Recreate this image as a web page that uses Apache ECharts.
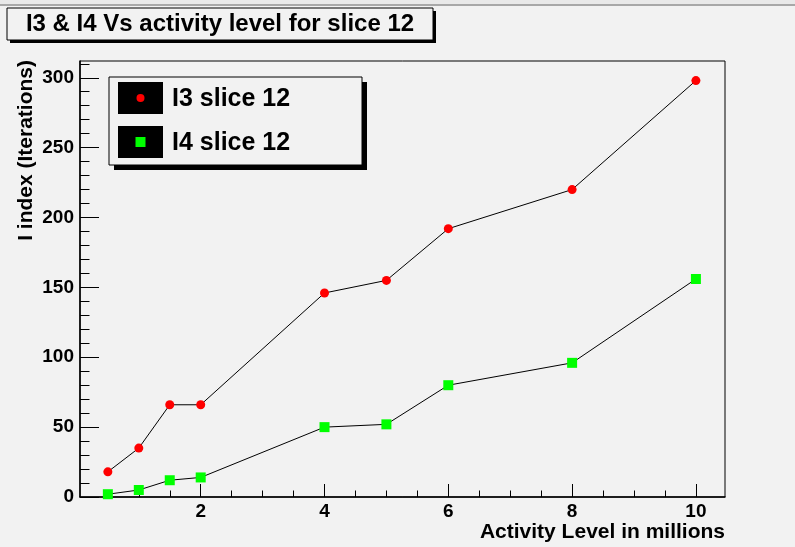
<!DOCTYPE html>
<html>
<head>
<meta charset="utf-8">
<script src="https://cdn.jsdelivr.net/npm/echarts@6/dist/echarts.min.js"></script>
<style>
  html, body { margin: 0; padding: 0; background: #f2f2f2; }
  #chart { width: 795px; height: 547px; }
</style>
</head>
<body>
<div id="chart"></div>
<script>
// Activity level (millions) and iteration counts per index
const activityLevels = [0.5, 1, 1.5, 2, 4, 5, 6, 8, 10];
const i3Slice12 = [18, 35, 66, 66, 146, 155, 192, 220, 298];
const i4Slice12 = [2, 5, 12, 14, 50, 52, 80, 96, 156];

// Axis tick positions
const xMajorTicks = [2, 4, 6, 8, 10];
const xMinorTicks = [0.5, 1, 1.5, 2.5, 3, 3.5, 4.5, 5, 5.5, 6.5, 7, 7.5, 8.5, 9, 9.5];
const yMajorTicks = [0, 50, 100, 150, 200, 250, 300];
const yMinorTicks = [10, 20, 30, 40, 60, 70, 80, 90, 110, 120, 130, 140, 160, 170, 180, 190,
                     210, 220, 230, 240, 260, 270, 280, 290, 310];

const seriesNames = ['I3 slice 12', 'I4 slice 12'];
const titleText = 'I3 & I4 Vs activity level for slice 12';
const xTitle = 'Activity Level in millions';
const yTitle = 'I index (Iterations)';

const FONT = '"Liberation Sans", Arial, Helvetica, sans-serif';
const X_MIN = 0.05, X_MAX = 10.47, Y_MIN = 0, Y_MAX = 312;

const pairs = (xs, ys) => xs.map((x, i) => [x, ys[i]]);

const chart = echarts.init(document.getElementById('chart'), null, { renderer: 'canvas' });

const labelStyle = { fontFamily: FONT, fontWeight: 'bold', fontSize: 19, color: '#000' };

chart.setOption({
  backgroundColor: '#f2f2f2',
  animation: false,
  grid: {
    left: 80, top: 61, width: 645, height: 436,
    show: true, borderColor: '#000', borderWidth: 1, backgroundColor: 'transparent'
  },
  xAxis: [
    {
      type: 'value', min: X_MIN, max: X_MAX, position: 'bottom',
      axisLine: { show: true, onZero: false, lineStyle: { color: '#000', width: 1.5 } },
      axisTick: { show: true, inside: true, length: 13, customValues: xMajorTicks, lineStyle: { color: '#000' } },
      axisLabel: { show: true, customValues: xMajorTicks, margin: 5, ...labelStyle },
      splitLine: { show: false }
    },
    {
      type: 'value', min: X_MIN, max: X_MAX, position: 'bottom',
      axisLine: { show: false },
      axisTick: { show: true, inside: true, length: 6.5, customValues: xMinorTicks, lineStyle: { color: '#000' } },
      axisLabel: { show: false },
      splitLine: { show: false }
    }
  ],
  yAxis: [
    {
      type: 'value', min: Y_MIN, max: Y_MAX, position: 'left',
      axisLine: { show: true, onZero: false, lineStyle: { color: '#000', width: 1.5 } },
      axisTick: { show: true, inside: true, length: 19, customValues: yMajorTicks, lineStyle: { color: '#000' } },
      axisLabel: { show: true, customValues: yMajorTicks, margin: 6, ...labelStyle },
      splitLine: { show: false }
    },
    {
      type: 'value', min: Y_MIN, max: Y_MAX, position: 'left',
      axisLine: { show: false },
      axisTick: { show: true, inside: true, length: 9.5, customValues: yMinorTicks, lineStyle: { color: '#000' } },
      axisLabel: { show: false },
      splitLine: { show: false }
    }
  ],
  series: [
    {
      name: seriesNames[0], type: 'line', xAxisIndex: 0, yAxisIndex: 0,
      data: pairs(activityLevels, i3Slice12),
      symbol: 'circle', symbolSize: 9,
      itemStyle: { color: '#ff0000', borderWidth: 0 },
      lineStyle: { color: '#000', width: 1 },
      z: 3
    },
    {
      name: seriesNames[1], type: 'line', xAxisIndex: 0, yAxisIndex: 0,
      data: pairs(activityLevels, i4Slice12),
      symbol: 'rect', symbolSize: 10,
      itemStyle: { color: '#00ff00', borderWidth: 0 },
      lineStyle: { color: '#000', width: 1 },
      z: 3
    }
  ],
  graphic: [
    // window strip along the top edge
    { type: 'rect', shape: { x: 0, y: 0, width: 795, height: 4 }, style: { fill: '#e9e9e9' }, silent: true },
    { type: 'rect', shape: { x: 0, y: 4, width: 795, height: 2 }, style: { fill: '#a8a8a8' }, silent: true },

    // title box with drop shadow
    { type: 'rect', shape: { x: 10, y: 11, width: 426, height: 32 }, style: { fill: '#000' }, silent: true },
    { type: 'rect', shape: { x: 7, y: 8, width: 426, height: 32 }, style: { fill: '#f2f2f2', stroke: '#000', lineWidth: 1 }, silent: true },
    { type: 'text', x: 220, y: 24,
      style: { text: titleText, font: 'bold 24px ' + FONT, fill: '#000', align: 'center', verticalAlign: 'middle' } },

    // legend box with drop shadow
    { type: 'rect', shape: { x: 114, y: 82, width: 253, height: 88 }, style: { fill: '#000' }, silent: true, z: 10 },
    { type: 'rect', shape: { x: 109, y: 77, width: 253, height: 88 }, style: { fill: '#f2f2f2', stroke: '#000', lineWidth: 1 }, silent: true, z: 10 },
    { type: 'rect', shape: { x: 118, y: 82, width: 45, height: 32 }, style: { fill: '#000' }, silent: true, z: 11 },
    { type: 'rect', shape: { x: 118, y: 126, width: 45, height: 32 }, style: { fill: '#000' }, silent: true, z: 11 },
    { type: 'circle', shape: { cx: 140.5, cy: 98, r: 4 }, style: { fill: '#ff0000' }, silent: true, z: 12 },
    { type: 'rect', shape: { x: 135.5, y: 137, width: 10, height: 10 }, style: { fill: '#00ff00' }, silent: true, z: 12 },
    { type: 'text', x: 172, y: 99, z: 12,
      style: { text: seriesNames[0], font: 'bold 25px ' + FONT, fill: '#000', align: 'left', verticalAlign: 'middle' } },
    { type: 'text', x: 172, y: 143, z: 12,
      style: { text: seriesNames[1], font: 'bold 25px ' + FONT, fill: '#000', align: 'left', verticalAlign: 'middle' } },

    // axis titles
    { type: 'text', x: 725, y: 532,
      style: { text: xTitle, font: 'bold 21px ' + FONT, fill: '#000', align: 'right', verticalAlign: 'middle' } },
    { type: 'text', x: 26, y: 60, rotation: Math.PI / 2,
      style: { text: yTitle, font: 'bold 21px ' + FONT, fill: '#000', align: 'right', verticalAlign: 'middle' } }
  ]
});
</script>
</body>
</html>
